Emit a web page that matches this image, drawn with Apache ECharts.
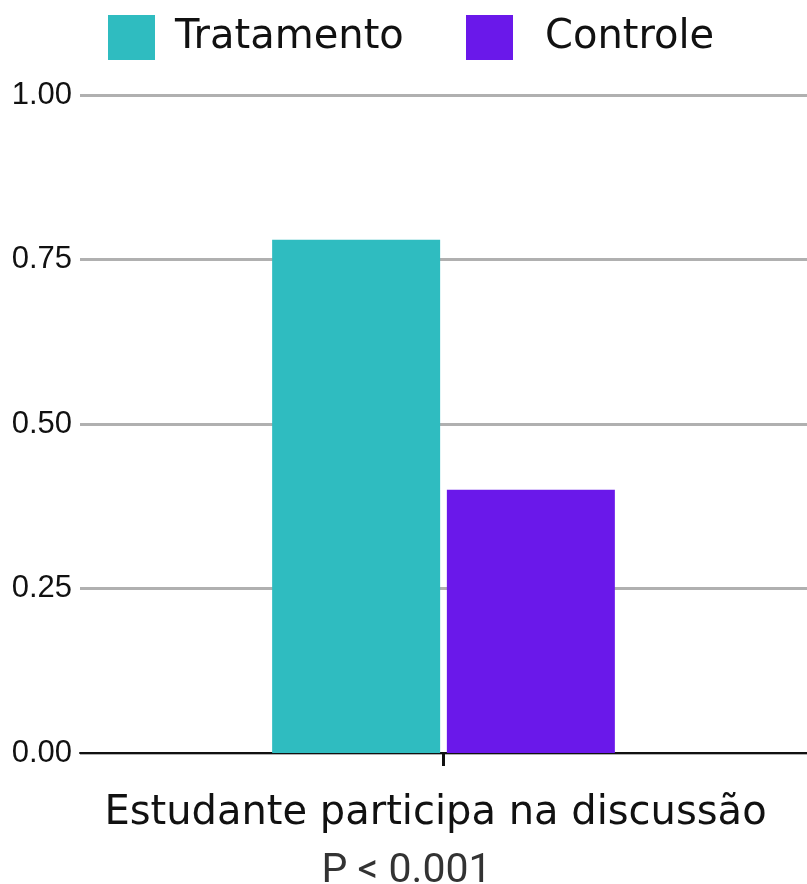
<!DOCTYPE html>
<html lang="pt">
<head>
    <meta charset="UTF-8">
    <title>Participação</title>
    <script src="https://cdn.jsdelivr.net/npm/echarts@6/dist/echarts.min.js"></script>
    <style>
        html, body { margin: 0; padding: 0; background: #fff; }
    </style>
</head>
<body>
<div id="chartmain" style="width: 807px; height: 884px;"></div>
<script type="text/javascript">
    // dados
    var categorias = ['Estudante participa na discussão'];
    var tratamento = [0.78];
    var controle = [0.40];
    var ticksY = [0, 0.25, 0.5, 0.75, 1];

    var myChart = echarts.init(document.getElementById('chartmain'));

    var legendaTexto = { fontFamily: 'DejaVu Sans', fontSize: 40, color: '#111' };

    var option = {
        animation: false,
        legend: [{
            top: 15,
            left: 108,
            padding: 0,
            itemWidth: 47,
            itemHeight: 45,
            icon: 'rect',
            textStyle: Object.assign({ padding: [0, 0, 0, 15] }, legendaTexto),
            data: ['Tratamento']
        }, {
            top: 15,
            left: 466,
            padding: 0,
            itemWidth: 47,
            itemHeight: 45,
            icon: 'rect',
            textStyle: Object.assign({ padding: [0, 0, 0, 27] }, legendaTexto),
            data: ['Controle']
        }],
        grid: {
            left: 80,
            right: 0,
            top: 95,
            bottom: 131,
            outerBoundsMode: 'none'
        },
        xAxis: {
            type: 'category',
            data: categorias,
            axisLine: { lineStyle: { color: '#111', width: 2 } },
            axisTick: { show: true, alignWithLabel: true, length: 13, lineStyle: { color: '#111', width: 3 } },
            axisLabel: {
                margin: 33,
                formatter: function (v) { return '{a|' + v + '}\n{b|P < 0.001}'; },
                rich: {
                    a: { fontFamily: 'DejaVu Sans', fontSize: 40, color: '#111', lineHeight: 56, padding: [0, 16, 0, 0] },
                    b: { fontFamily: 'Roboto', fontSize: 41, color: '#333', lineHeight: 60, padding: [0, 74, 0, 0] }
                }
            }
        },
        yAxis: {
            type: 'value',
            min: ticksY[0],
            max: ticksY[ticksY.length - 1],
            interval: 0.25,
            axisLine: { show: false },
            axisTick: { show: false },
            splitLine: { lineStyle: { color: '#b0b0b0', width: 3 } },
            axisLabel: {
                margin: 8,
                fontFamily: 'Liberation Sans',
                fontSize: 31,
                color: '#111',
                formatter: function (v) { return v.toFixed(2); }
            }
        },
        series: [{
            name: 'Tratamento',
            type: 'bar',
            barWidth: 168,
            barGap: '4%',
            itemStyle: { color: '#2fbcc0' },
            data: tratamento
        }, {
            name: 'Controle',
            type: 'bar',
            barWidth: 168,
            barGap: '4%',
            itemStyle: { color: '#6a18ea' },
            data: controle
        }]
    };

    myChart.setOption(option);
</script>
</body>
</html>
